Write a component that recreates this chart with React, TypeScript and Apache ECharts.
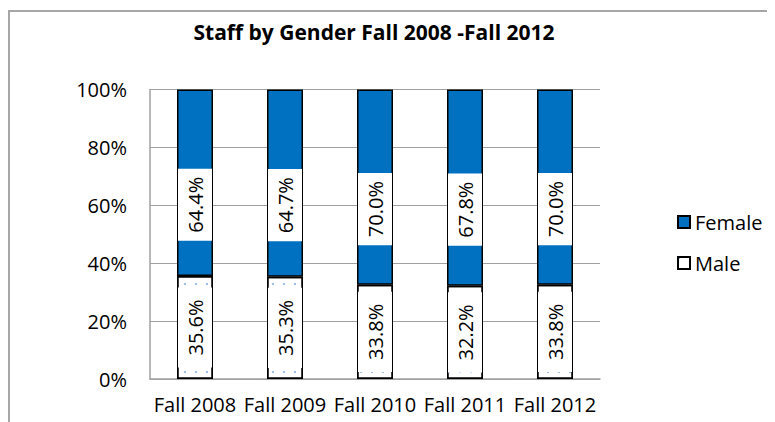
import React, { useEffect, useRef } from "react";
import * as echarts from "echarts";

const categories = ["Fall 2008", "Fall 2009", "Fall 2010", "Fall 2011", "Fall 2012"];
const femaleRaw = [64.4, 64.7, 70.0, 67.8, 70.0];
const maleRaw = [35.6, 35.3, 33.8, 32.2, 33.8];
const yTicks = [0, 20, 40, 60, 80, 100];

const FONT = "'Open Sans', sans-serif";

export default function App() {
  const ref = useRef<HTMLDivElement>(null);
  useEffect(() => {
    if (!ref.current) return;
    const chart = echarts.init(ref.current, undefined, { renderer: "svg" });
    const totals = categories.map((_, i) => femaleRaw[i] + maleRaw[i]);
    const maleShare = maleRaw.map((v, i) => (v / totals[i]) * 100);
    const femaleShare = femaleRaw.map((v, i) => (v / totals[i]) * 100);
    const labelBase = {
      show: true,
      rotate: 90,
      position: "inside",
      fontFamily: FONT,
      fontSize: 20,
      lineHeight: 20,
      color: "#000",
      backgroundColor: "#fff",
    };
    chart.setOption({
      animation: false,
      graphic: [
        {
          type: "rect",
          shape: { x: 1, y: 3, width: 900, height: 900 },
          style: { fill: "none", stroke: "#a6a6a6", lineWidth: 2 },
          silent: true,
        },
        {
          type: "text",
          x: 366,
          y: 24,
          style: {
            text: "Staff by Gender Fall 2008 -Fall 2012",
            fontFamily: FONT,
            fontWeight: "bold",
            fontSize: 21,
            fill: "#000",
            align: "center",
            verticalAlign: "middle",
          },
        },
      ],
      grid: { left: 142, right: 175, top: 81.5, bottom: 43 },
      legend: {
        orient: "vertical",
        left: 664,
        top: 199,
        itemWidth: 12,
        itemHeight: 12,
        itemGap: 21,
        icon: "rect",
        data: ["Female", "Male"],
        textStyle: { fontFamily: FONT, fontSize: 20, lineHeight: 20, color: "#000" },
      },
      xAxis: {
        type: "category",
        data: categories,
        axisLine: { show: true, lineStyle: { color: "#a0a0a0", width: 1.5 } },
        axisTick: { show: false },
        axisLabel: { interval: 0, fontFamily: FONT, fontSize: 20, color: "#000", margin: 15 },
      },
      yAxis: {
        type: "value",
        min: yTicks[0],
        max: yTicks[yTicks.length - 1],
        interval: 20,
        axisLine: { show: true, lineStyle: { color: "#a0a0a0", width: 1.5 } },
        axisTick: { show: false },
        splitLine: { lineStyle: { color: "#a0a0a0", width: 1.2 } },
        axisLabel: { formatter: "{value}%", fontFamily: FONT, fontSize: 20, color: "#000", margin: 23 },
      },
      series: [
        {
          name: "Male",
          type: "bar",
          stack: "total",
          barWidth: 36,
          data: maleShare,
          itemStyle: {
            color: "#fff",
            borderColor: "#000",
            borderWidth: 1.5,
            decal: {
              symbol: "circle",
              symbolSize: 1,
              color: "#8db3e2",
              backgroundColor: "#fff",
              dashArrayX: [2, 9],
              dashArrayY: [2, 9],
            },
          },
          label: {
            ...labelBase,
            padding: [7, 12],
            formatter: (p: any) => `${maleRaw[p.dataIndex].toFixed(1)}%`,
          },
        },
        {
          name: "Female",
          type: "bar",
          stack: "total",
          barWidth: 36,
          data: femaleShare,
          itemStyle: { color: "#0070C0", borderColor: "#000", borderWidth: 1.5 },
          label: {
            ...labelBase,
            padding: [7, 8],
            offset: [-22, 0],
            formatter: (p: any) => `${femaleRaw[p.dataIndex].toFixed(1)}%`,
          },
        },
      ],
    });
    return () => chart.dispose();
  }, []);
  return <div ref={ref} style={{ width: 767, height: 414 }} />;
}
